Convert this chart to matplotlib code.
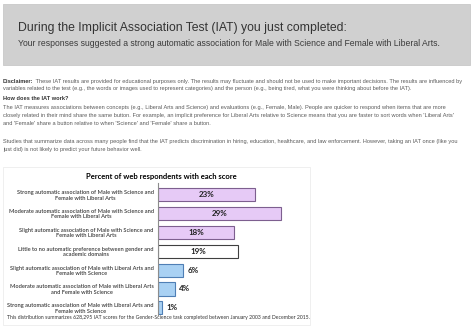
import matplotlib
matplotlib.use("Agg")
import matplotlib.pyplot as plt
from matplotlib.patches import Rectangle

# page text
header_title = "During the Implicit Association Test (IAT) you just completed:"
header_sub = ("Your responses suggested a strong automatic association for Male with "
              "Science and Female with Liberal Arts.")
disclaimer_lead = "Disclaimer:"
disclaimer_lines = [
    " These IAT results are provided for educational purposes only. The results may fluctuate "
    "and should not be used to make important decisions. The results are influenced by",
    "variables related to the test (e.g., the words or images used to represent categories) and "
    "the person (e.g., being tired, what you were thinking about before the IAT).",
]
how_heading = "How does the IAT work?"
how_lines = [
    "The IAT measures associations between concepts (e.g., Liberal Arts and Science) and "
    "evaluations (e.g., Female, Male). People are quicker to respond when items that are more",
    "closely related in their mind share the same button. For example, an implicit preference for "
    "Liberal Arts relative to Science means that you are faster to sort words when 'Liberal Arts'",
    "and 'Female' share a button relative to when 'Science' and 'Female' share a button.",
]
studies_lines = [
    "Studies that summarize data across many people find that the IAT predicts discrimination in "
    "hiring, education, healthcare, and law enforcement. However, taking an IAT once (like you",
    "just did) is not likely to predict your future behavior well.",
]

# chart data
chart_title = "Percent of web respondents with each score"
categories = [
    "Strong automatic association of Male with Science and\nFemale with Liberal Arts",
    "Moderate automatic association of Male with Science and\nFemale with Liberal Arts",
    "Slight automatic association of Male with Science and\nFemale with Liberal Arts",
    "Little to no automatic preference between gender and\nacademic domains",
    "Slight automatic association of Male with Liberal Arts and\nFemale with Science",
    "Moderate automatic association of Male with Liberal Arts\nand Female with Science",
    "Strong automatic association of Male with Liberal Arts and\nFemale with Science",
]
percents = [23, 29, 18, 19, 6, 4, 1]
groups = ["sci", "sci", "sci", "none", "arts", "arts", "arts"]
footnote = ("This distribution summarizes 628,295 IAT scores for the Gender-Science task "
            "completed between January 2003 and December 2015.")

W, H = 474, 327
fig = plt.figure(figsize=(W / 100, H / 100), dpi=100)
fig.patch.set_facecolor("white")
r = fig.canvas.get_renderer()


def fx(x):
    return x / W


def fy(y):
    return 1 - y / H


def fit(t, width):
    w = t.get_window_extent(r).width
    t.set_fontsize(t.get_fontsize() * width / w)
    return t


# grey header box
fig.patches.append(Rectangle((fx(3), fy(65)), 467 / W, 61 / H, transform=fig.transFigure,
                             facecolor="#d0d0d0", edgecolor="#c8c8c8", lw=0.6))
t = fig.text(fx(18), fy(28), header_title, family="Liberation Sans", color="#333333",
             va="center", fontsize=8)
fit(t, 329)
t = fig.text(fx(18), fy(43), header_sub, family="Liberation Sans", color="#3a3a3a",
             va="center", fontsize=6)
fit(t, 427)

# body text
body_font = "Liberation Sans"
body_col = "#5a5a5a"
lead = fig.text(fx(3), fy(81), disclaimer_lead, family=body_font, weight="bold",
                color="#333333", va="center", fontsize=3.6)
first = fig.text(fx(3), fy(81), disclaimer_lead + disclaimer_lines[0], family=body_font,
                 color=body_col, va="center", fontsize=3.6)
fit(first, 465)
bs = first.get_fontsize()
first.remove()
lead.set_fontsize(bs)
lw = lead.get_window_extent(r).width
fig.text(fx(3 + lw), fy(81), disclaimer_lines[0], family=body_font, color=body_col,
         va="center", fontsize=bs)
fig.text(fx(3), fy(88.5), disclaimer_lines[1], family=body_font, color=body_col,
         va="center", fontsize=bs)
fig.text(fx(3), fy(99), how_heading, family=body_font, weight="bold", color="#333333",
         va="center", fontsize=bs)
for i, line in enumerate(how_lines):
    fig.text(fx(3), fy(108 + 7.6 * i), line, family=body_font, color=body_col,
             va="center", fontsize=bs)
for i, line in enumerate(studies_lines):
    fig.text(fx(3), fy(141.5 + 7.5 * i), line, family=body_font, color=body_col,
             va="center", fontsize=bs)

# faint chart frame
fig.patches.append(Rectangle((fx(3), fy(325)), 307 / W, 158 / H, transform=fig.transFigure,
                             facecolor="none", edgecolor="#ececec", lw=0.6))

chart_font = "Lato"
t = fig.text(fx(161), fy(177), chart_title, family=chart_font, weight="bold",
             color="black", ha="center", va="center", fontsize=6)
fit(t, 151)

# bar chart
step = 18.9
ylo, yhi = -0.6, 6.4
ax_top = 194.5 + ylo * step
ax_bot = 194.5 + yhi * step
x0, xmax = 158, 35
ax = fig.add_axes([fx(x0), fy(ax_bot), 148 / W, (ax_bot - ax_top) / H])
ax.set_xlim(0, xmax)
ax.set_ylim(yhi, ylo)
ax.patch.set_alpha(0)

face = {"sci": "#e6caf6", "none": "white", "arts": "#a9d1f3"}
edge = {"sci": "#7d5f8f", "none": "#404040", "arts": "#4f7fb5"}
ypos = list(range(len(percents)))
ax.barh(ypos, percents, height=0.69, color=[face[g] for g in groups],
        edgecolor=[edge[g] for g in groups], linewidth=0.8)

probe = fig.text(0, 0, "23%", family=chart_font, weight="bold", fontsize=6)
fit(probe, 16)
vs = probe.get_fontsize()
probe.remove()
for y, p, g in zip(ypos, percents, groups):
    if g == "arts":
        ax.annotate(f"{p}%", (p, y), xytext=(3, 0), textcoords="offset points",
                    ha="left", va="center", family=chart_font, weight="bold",
                    fontsize=vs, color="#222222")
    else:
        ax.text(p / 2, y, f"{p}%", ha="center", va="center", family=chart_font,
                weight="bold", fontsize=vs, color="#222222")

probe = fig.text(0, 0, "Strong automatic association of Male with Liberal Arts and",
                 family=chart_font, weight="semibold", fontsize=4)
fit(probe, 146)
ls = probe.get_fontsize()
probe.remove()
ax.set_yticks(ypos)
ax.set_yticklabels(categories, family=chart_font, weight="semibold", fontsize=ls,
                   color="#3c3c3c", linespacing=1.15, ha="right", multialignment="center")
ax.tick_params(axis="y", length=0, pad=3)
ax.set_xticks([])
for s in ["top", "right", "bottom"]:
    ax.spines[s].set_visible(False)
ax.spines["left"].set_color("#8c8c8c")
ax.spines["left"].set_linewidth(0.8)

t = fig.text(fx(7), fy(318), footnote, family=chart_font, color="#333333",
             va="center", fontsize=4)
fit(t, 299)

fig.savefig("out.png", dpi=100)
